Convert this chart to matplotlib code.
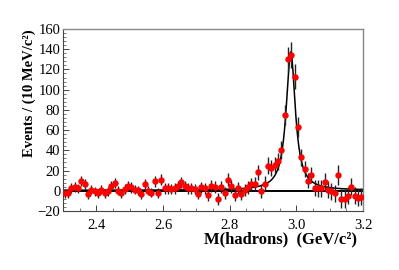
import numpy as np
import matplotlib
matplotlib.use("Agg")
import matplotlib.pyplot as plt
from matplotlib.ticker import MultipleLocator

# ================== DATA ==================
bin_lo = 2.30          # lower edge of first bin (GeV/c^2)
bin_step = 0.01        # 10 MeV bins
counts = [
    -2.3, -2.3, 3.0, 3.7, 2.3, 9.3, 6.7, -3.3, 1.0, -0.7,
    -2.3, 1.0, -2.3, -0.7, 5.0, 7.7, 0.0, -2.3, 1.7, 4.3,
    3.3, 1.0, 0.3, -3.3, 6.7, 0.0, -1.7, 9.3, -2.3, 11.0,
    2.3, 2.3, 2.0, 2.3, 4.3, 8.3, 4.3, 2.3, 2.3, 2.0,
    -3.3, 3.5, 2.3, -4.5, 5.0, 3.7, -8.0, 3.7, -2.3, 11.0,
    4.3, -4.5, 3.0, -3.3, 0.5, 3.5, 6.3, 6.7, 18.3, 0.0,
    7.0, 25.0, 22.7, 25.7, 29.0, 40.0, 75.0, 130.0, 134.0, 113.0,
    63.0, 33.0, 21.7, 10.0, 15.3, 3.0, 2.3, 2.3, 9.0, 1.0,
    -0.7, -2.3, 15.3, -7.7, -7.7, -5.0, 4.0, -5.0, -6.7, -5.7,
]
errors = [
    4.5, 4.5, 5, 5, 4.5, 5, 5, 4.5, 4.5, 4.5,
    4.5, 4.5, 4.5, 4.5, 5, 5, 4.5, 4.5, 5, 5,
    5, 4.5, 4.5, 4.5, 5, 4.5, 4.5, 5.5, 5, 5.5,
    5, 5, 5, 5, 5, 5.5, 5, 5, 5, 5,
    5, 5.5, 5.5, 5.5, 6, 6, 6, 6, 6, 6.5,
    6, 6, 6, 6, 6, 6.5, 6.5, 7, 7.5, 7,
    7.5, 8, 8, 8, 8.5, 9, 10, 12.5, 13, 12,
    9.5, 8, 8, 7.5, 8, 8, 8, 8.5, 9, 8.5,
    8.5, 8.5, 10, 9, 9, 8.5, 8.5, 8.5, 8.5, 8.5,
]

# fit result (Breit-Wigner + flat background)
fit_mass = 2.983
fit_width = 0.033
fit_peak = 137.0
fit_bg = 0.5

x_ticks = [2.4, 2.6, 2.8, 3.0, 3.2]
y_ticks = [-20, 0, 20, 40, 60, 80, 100, 120, 140, 160]

# ================== PLOT ==================
plt.rcParams["font.family"] = ["Liberation Serif", "DejaVu Serif"]

centers = bin_lo + bin_step * (np.arange(len(counts)) + 0.5)

fig = plt.figure(figsize=(3.99, 2.70), dpi=100)
ax = fig.add_axes([0.158, 0.2185, 0.752, 0.6741])

# zero line
ax.axhline(0, color="black", lw=1.4, zorder=1)

# fit curve
xf = np.linspace(2.3, 3.2, 600)
hw = fit_width / 2
yf = fit_bg + fit_peak * hw**2 / ((xf - fit_mass)**2 + hw**2)
ax.plot(xf, yf, color="black", lw=1.1, zorder=2)

# data points
ax.errorbar(centers, counts, yerr=errors, fmt="o", color="red",
            ms=3.6, mec="red", ecolor="#222222", elinewidth=1.0,
            capsize=0, zorder=3)

ax.set_xlim(2.3, 3.2)
ax.set_ylim(-20, 160)
ax.set_xticks(x_ticks)
ax.set_yticks(y_ticks)
ax.xaxis.set_minor_locator(MultipleLocator(0.05))
ax.yaxis.set_minor_locator(MultipleLocator(4))
ax.tick_params(axis="both", which="both", direction="in",
               top=False, right=False, labelsize=10.5, colors="#444444",
               labelcolor="black")
ax.tick_params(which="major", length=4, width=0.7)
ax.tick_params(which="minor", length=2, width=0.5)
ax.tick_params(axis="x", pad=6)
ax.tick_params(axis="y", pad=2)

for s in ["left", "bottom"]:
    ax.spines[s].set_color("#444444")
    ax.spines[s].set_linewidth(0.8)
for s in ["top", "right"]:
    ax.spines[s].set_color("#888888")
    ax.spines[s].set_linewidth(1.0)

ax.set_xlabel("M(hadrons)  (GeV/c²)", fontsize=12, fontweight="bold",
              ha="right")
ax.xaxis.set_label_coords(0.98, -0.11)
ax.set_ylabel("Events / (10 MeV/c²)", fontsize=10.5, fontweight="bold",
              ha="right")
ax.yaxis.set_label_coords(-0.09, 1.0)

fig.savefig("out.png", dpi=100)
